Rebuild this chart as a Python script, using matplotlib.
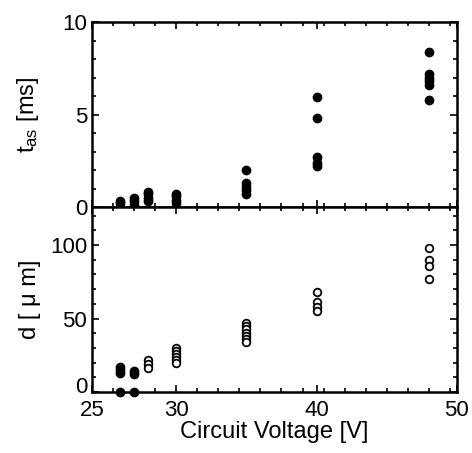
import numpy as np
import matplotlib.pyplot as plt
import matplotlib.transforms as mtransforms

plt.rcParams['font.family'] = ['Liberation Sans', 'DejaVu Sans']

# top panel: t_as [ms], filled dots
tasVoltage = [26, 26, 26, 27, 27, 27, 28, 28, 28, 28, 30, 30, 30, 30,
              35, 35, 35, 35, 35, 40, 40, 40, 40, 40,
              48, 48, 48, 48, 48, 48]
tasValues = [0.0, 0.2, 0.3, 0.1, 0.3, 0.5, 0.3, 0.5, 0.7, 0.8, 0.2, 0.4, 0.6, 0.7,
             2.0, 1.3, 1.1, 0.9, 0.7, 5.95, 4.8, 2.7, 2.4, 2.2,
             8.4, 7.2, 7.0, 6.8, 6.6, 5.8]

# bottom panel: d [um], filled dots at low voltage
dFilledVoltage = [26, 26, 26, 26, 27, 27, 27]
dFilledValues = [0, 13, 15, 17, 0, 12, 14]

# bottom panel: d [um], open circles
dOpenVoltage = [28, 28, 28, 30, 30, 30, 30, 30, 30,
                35, 35, 35, 35, 35, 35, 35,
                40, 40, 40, 40, 48, 48, 48, 48]
dOpenValues = [22, 19, 16, 30, 28, 26, 24, 22, 20,
               47, 45, 43, 40, 38, 36, 34,
               68, 61, 58, 55, 98, 90, 86, 77]

xTicks = [24, 30, 40, 50]
xTickLabels = ['25', '30', '40', '50']


def styleAxis(ax):
    ax.tick_params(which='both', direction='in', top=True, right=True, labelsize=16, width=1.2)
    ax.tick_params(which='major', length=5)
    ax.tick_params(which='minor', length=3)
    for s in ax.spines.values():
        s.set_linewidth(1.8)


fig = plt.figure(figsize=(4.72, 4.53), dpi=100)
axTop = fig.add_axes([0.195, 0.543, 0.773, 0.408])
axBot = fig.add_axes([0.195, 0.135, 0.773, 0.408], sharex=axTop)

axTop.plot(tasVoltage, tasValues, 'o', color='black', markersize=6, clip_on=False)
axTop.set_ylim(0, 10)
axTop.set_yticks([0, 5, 10])
axTop.set_ylabel(r'$\mathregular{t_{as}}$ [ms]', fontsize=17)
axTop.tick_params(labelbottom=False)

axBot.plot(dFilledVoltage, dFilledValues, 'o', color='black', markersize=6, clip_on=False)
axBot.plot(dOpenVoltage, dOpenValues, 'o', markerfacecolor='white', markeredgecolor='black',
           markeredgewidth=1.3, markersize=5.5, clip_on=False)
axBot.set_ylim(0, 126)
axBot.set_yticks([0, 50, 100])
axBot.set_ylabel('d [ μ m]', fontsize=17)
axBot.set_xlim(24, 50)
axBot.set_xticks(xTicks)
axBot.set_xticklabels(xTickLabels)
axBot.set_xlabel('Circuit Voltage [V]', fontsize=17, labelpad=0)

for ax in (axTop, axBot):
    styleAxis(ax)
    ax.minorticks_on()
    ax.yaxis.set_label_coords(-0.14, 0.5)

axBot.tick_params(axis='x', which='major', pad=6)
# nudge the bottom "0" up a few pixels so it only touches the "25"
zeroLabel = axBot.yaxis.get_major_ticks()[0].label1
zeroLabel.set_transform(zeroLabel.get_transform() +
                        mtransforms.ScaledTranslation(0, 5 / 72, fig.dpi_scale_trans))

plt.savefig('out.png', dpi=100)
